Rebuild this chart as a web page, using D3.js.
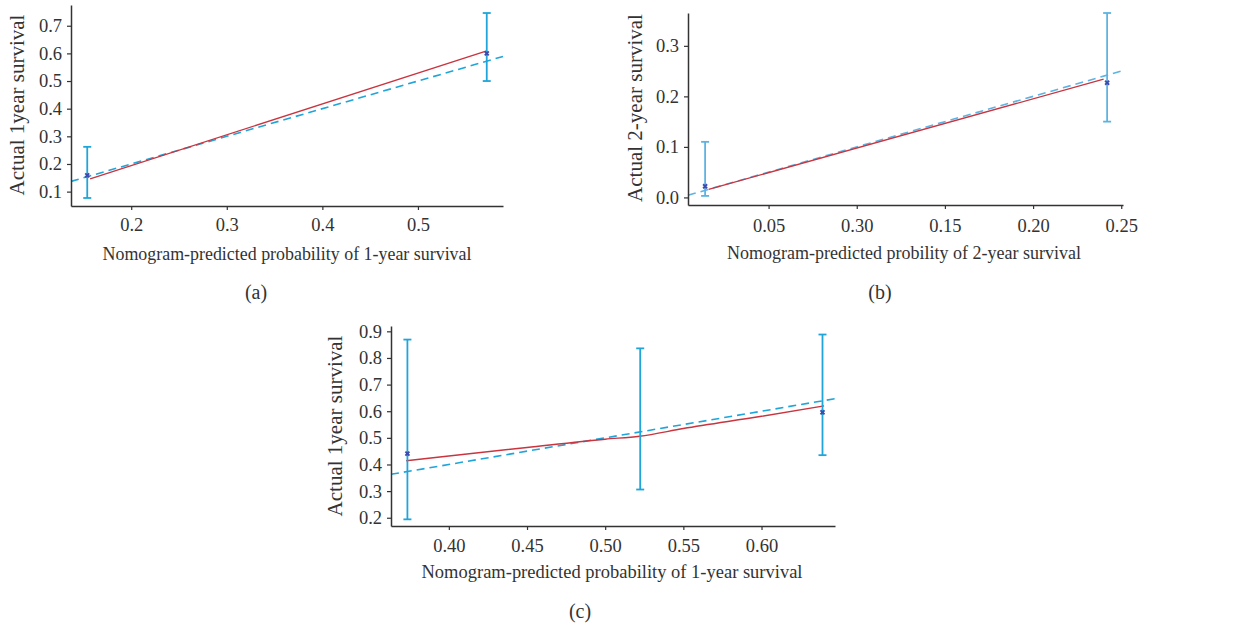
<!DOCTYPE html>
<html>
<head>
<meta charset="utf-8">
<script src="https://cdn.jsdelivr.net/npm/d3@7"></script>
<style>
  body { margin: 0; background: #fff; }
  svg { display: block; }
  text { font-family: "Liberation Serif", "DejaVu Serif", serif; fill: #333; }
</style>
</head>
<body>
<div class="chart"></div>
<script>
// ---- data ----
// panel (a): 1-year survival
var aGroupX = [0.154, 0.572];
var aObserved = [0.159, 0.600];
var aLower = [0.077, 0.500];
var aUpper = [0.262, 0.746];
var aFitX = [0.157, 0.572];
var aFitY = [0.146, 0.609];
var aTicksX = [0.2, 0.3, 0.4, 0.5];
var aTicksY = [0.1, 0.2, 0.3, 0.4, 0.5, 0.6, 0.7];

// panel (b): 2-year survival
var bGroupX = [0.014, 0.242];
var bObserved = [0.022, 0.227];
var bLower = [0.003, 0.150];
var bUpper = [0.110, 0.365];
var bFitX = [0.016, 0.240];
var bFitY = [0.016, 0.234];
var bTicksX = [0.05, 0.10, 0.15, 0.20, 0.25];
var bTickLabelsX = ["0.05", "0.30", "0.15", "0.20", "0.25"];
var bTicksY = [0.0, 0.1, 0.2, 0.3];

// panel (c): 1-year survival, three groups
var cGroupX = [0.3735, 0.5224, 0.639];
var cObserved = [0.441, 0.506, 0.596];
var cLower = [0.194, 0.306, 0.435];
var cUpper = [0.869, 0.836, 0.888];
var cFitX = [0.3727, 0.40, 0.45, 0.50, 0.522, 0.55, 0.60, 0.640];
var cFitY = [0.414, 0.432, 0.464, 0.495, 0.506, 0.535, 0.581, 0.620];
var cTicksX = [0.40, 0.45, 0.50, 0.55, 0.60];
var cTicksY = [0.2, 0.3, 0.4, 0.5, 0.6, 0.7, 0.8, 0.9];

var svgWidth = 1238;
var svgHeight = 629;

var svg = d3.select(".chart")
    .append("svg")
    .attr("width", svgWidth)
    .attr("height", svgHeight);

// draw one calibration panel
function drawPanel(p) {
    var g = svg.append("g");

    var x = d3.scaleLinear().domain(p.xDomain).range([p.left, p.right]);
    var y = d3.scaleLinear().domain(p.yDomain).range([p.bottom, p.top]);

    // ideal (diagonal) reference line, dashed
    var d0 = Math.max(p.xDomain[0], p.yDomain[0]);
    var d1 = Math.min(p.xDomain[1], p.yDomain[1]);
    g.append("line")
        .attr("x1", x(d0)).attr("y1", y(d0))
        .attr("x2", x(d1)).attr("y2", y(d1))
        .attr("stroke", p.dashColor)
        .attr("stroke-width", 1.6)
        .attr("stroke-dasharray", "8,5");

    // apparent calibration line
    var fit = p.fitX.map(function(v, i) { return [v, p.fitY[i]]; });
    g.append("path")
        .datum(fit)
        .attr("fill", "none")
        .attr("stroke", "#c9343f")
        .attr("stroke-width", 1.4)
        .attr("d", d3.line()
            .x(function(d) { return x(d[0]); })
            .y(function(d) { return y(d[1]); })
            .curve(d3.curveMonotoneX));

    // error bars
    var groups = p.groupX.map(function(v, i) {
        return { x: v, obs: p.observed[i], lo: p.lower[i], hi: p.upper[i] };
    });
    var bars = g.selectAll(".bar").data(groups).enter().append("g");
    bars.append("line")
        .attr("x1", function(d) { return x(d.x); })
        .attr("x2", function(d) { return x(d.x); })
        .attr("y1", function(d) { return y(d.lo); })
        .attr("y2", function(d) { return y(d.hi); })
        .attr("stroke", p.barColor).attr("stroke-width", 1.8);
    ["lo", "hi"].forEach(function(k) {
        bars.append("line")
            .attr("x1", function(d) { return x(d.x) - 4; })
            .attr("x2", function(d) { return x(d.x) + 4; })
            .attr("y1", function(d) { return y(d[k]); })
            .attr("y2", function(d) { return y(d[k]); })
            .attr("stroke", p.barColor).attr("stroke-width", 1.8);
    });

    // observed points as small x markers
    bars.filter(function(d, i) { return p.showMark[i]; })
        .append("path")
        .attr("d", d3.symbol().type(d3.symbolCross).size(18))
        .attr("transform", function(d) {
            return "translate(" + x(d.x) + "," + y(d.obs) + ") rotate(45)";
        })
        .attr("fill", "#3b4bb0");

    // axes
    var xAxis = d3.axisBottom(x)
        .tickValues(p.ticksX)
        .tickSizeInner(4).tickSizeOuter(0).tickPadding(p.xPad)
        .tickFormat(function(d, i) { return p.tickLabelsX[i]; });
    var yAxis = d3.axisLeft(y)
        .tickValues(p.ticksY)
        .tickSizeInner(4).tickSizeOuter(0).tickPadding(5)
        .tickFormat(d3.format(".1f"));

    var gx = g.append("g")
        .attr("transform", "translate(0," + p.bottom + ")")
        .call(xAxis);
    var gy = g.append("g")
        .attr("transform", "translate(" + p.left + ",0)")
        .call(yAxis);
    [gx, gy].forEach(function(a) {
        a.select(".domain").attr("stroke", "#333").attr("stroke-width", 1.5);
        a.selectAll(".tick line").attr("stroke", "#333").attr("stroke-width", 1.2);
        a.selectAll(".tick text")
            .attr("font-family", "Liberation Serif, DejaVu Serif, serif")
            .attr("font-size", 18.5).attr("fill", "#333");
    });

    // axis titles and caption (ref font is narrower, so fit to measured width)
    g.append("text")
        .attr("x", p.xTitleX).attr("y", p.xTitleY)
        .attr("text-anchor", "middle").attr("font-size", 19.5)
        .attr("textLength", p.xTitleLen)
        .attr("lengthAdjust", "spacingAndGlyphs")
        .text(p.xTitle);
    g.append("text")
        .attr("transform", "translate(" + p.yTitleX + "," + p.yTitleY + ") rotate(-90)")
        .attr("text-anchor", "middle").attr("font-size", 21)
        .text(p.yTitle);
    g.append("text")
        .attr("x", p.capX).attr("y", p.capY)
        .attr("text-anchor", "middle").attr("font-size", 20)
        .text(p.caption);
}

drawPanel({
    left: 71, right: 503, top: 5, bottom: 206,
    xDomain: [0.137, 0.589], yDomain: [0.048, 0.775],
    groupX: aGroupX, observed: aObserved, lower: aLower, upper: aUpper,
    fitX: aFitX, fitY: aFitY, showMark: [true, true],
    ticksX: aTicksX, tickLabelsX: aTicksX.map(d3.format(".1f")), ticksY: aTicksY,
    xPad: 8,
    barColor: "#1fa5d9", dashColor: "#1fa5d9",
    xTitle: "Nomogram-predicted probability of 1-year survival",
    xTitleX: 287, xTitleY: 260, xTitleLen: 369,
    yTitle: "Actual 1year survival", yTitleX: 24, yTitleY: 105,
    caption: "(a)", capX: 256, capY: 299
});

drawPanel({
    left: 688, right: 1123, top: 13, bottom: 205,
    xDomain: [0.0043, 0.251], yDomain: [-0.015, 0.365],
    groupX: bGroupX, observed: bObserved, lower: bLower, upper: bUpper,
    fitX: bFitX, fitY: bFitY, showMark: [true, true],
    ticksX: bTicksX, tickLabelsX: bTickLabelsX, ticksY: bTicksY,
    xPad: 10,
    barColor: "#5db3e2", dashColor: "#5db3e2",
    xTitle: "Nomogram-predicted probility of 2-year survival",
    xTitleX: 904, xTitleY: 259, xTitleLen: 354,
    yTitle: "Actual 2-year survival", yTitleX: 642, yTitleY: 108,
    caption: "(b)", capX: 880, capY: 299
});

drawPanel({
    left: 391, right: 835, top: 326, bottom: 526,
    xDomain: [0.363, 0.647], yDomain: [0.169, 0.92],
    groupX: cGroupX, observed: cObserved, lower: cLower, upper: cUpper,
    fitX: cFitX, fitY: cFitY, showMark: [true, false, true],
    ticksX: cTicksX, tickLabelsX: cTicksX.map(d3.format(".2f")), ticksY: cTicksY,
    xPad: 9,
    barColor: "#1fa5d9", dashColor: "#1fa5d9",
    xTitle: "Nomogram-predicted probability of 1-year survival",
    xTitleX: 612, xTitleY: 578, xTitleLen: 381,
    yTitle: "Actual 1year survival", yTitleX: 342, yTitleY: 426,
    caption: "(c)", capX: 580, capY: 618
});
</script>
</body>
</html>
